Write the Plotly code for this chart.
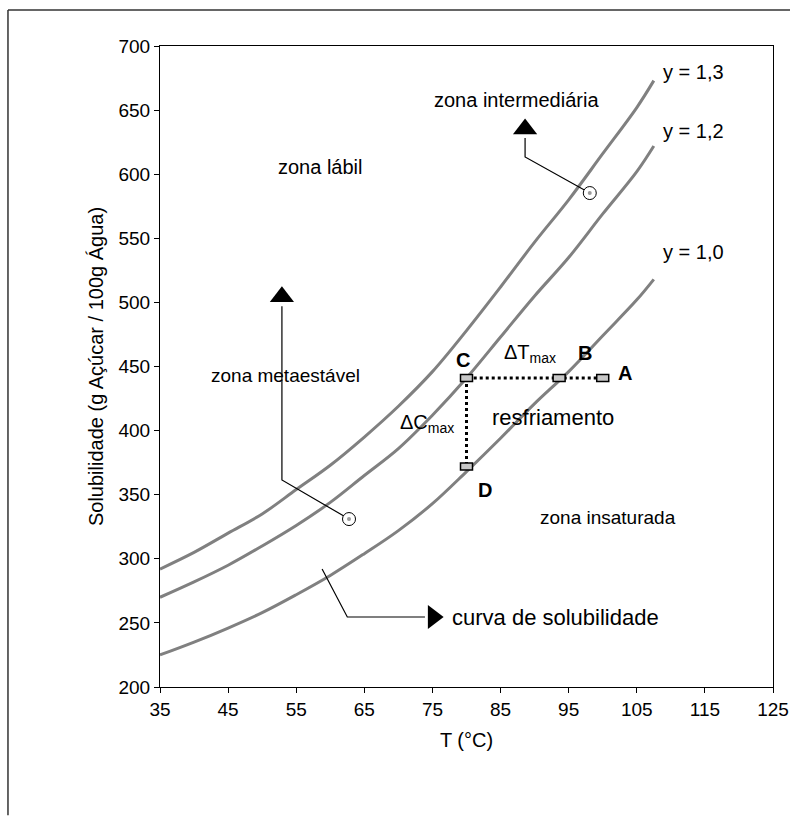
import plotly.graph_objects as go

# Temperature grid (°C) and solubility curves (g sugar / 100 g water)
temp = [35, 40, 45, 50, 55, 60, 65, 70, 75, 80, 85, 90, 95, 100, 105, 107.5]
sol_10 = [225, 235, 246, 258, 272, 287, 304, 322, 343, 368, 394, 421, 446, 474, 502, 518]
sol_12 = [270, 282, 295, 310, 326, 344, 365, 386, 412, 441, 473, 505, 535, 569, 602, 622]
sol_13 = [292, 305, 320, 335, 354, 373, 395, 419, 446, 478, 512, 547, 580, 616, 652, 673]

curve_labels = ["y = 1,3", "y = 1,2", "y = 1,0"]
curve_label_y = [679.7, 633.7, 539.3]
curve_label_x = 113.3

# Cooling path points A -> B -> C and C -> D
path_T = [100, 93.6, 80]
path_C = [441, 441, 441]
drop_T = [80, 80]
drop_C = [441, 372]
box_T = [100, 93.6, 80, 80]
box_C = [441, 441, 441, 372]

# Zone pointers (leader lines, arrow heads, marked points)
inter_line_T = [88.6, 88.6, 98.1]
inter_line_C = [628.2, 613.4, 585.3]
inter_head = (88.6, 635.3)
inter_point = (98.1, 585.3)

meta_line_T = [52.9, 52.9, 62.75]
meta_line_C = [497.0, 361.5, 331.0]
meta_head = (52.9, 504.5)
meta_point = (62.75, 331.0)

sol_line_T = [58.8, 62.5, 73.9]
sol_line_C = [292.0, 254.6, 254.6]
sol_head = (75.1, 254.6)

x_ticks = [35, 45, 55, 65, 75, 85, 95, 105, 115, 125]
y_ticks = [200, 250, 300, 350, 400, 450, 500, 550, 600, 650, 700]

FONT = "Liberation Sans, Arial, sans-serif"
GRAY = "#808080"

fig = go.Figure()

for ys in (sol_13, sol_12, sol_10):
    fig.add_trace(go.Scatter(x=temp, y=ys, mode="lines",
                             line=dict(color=GRAY, width=3, shape="spline"),
                             hoverinfo="skip"))

# dotted cooling path
fig.add_trace(go.Scatter(x=path_T, y=path_C, mode="lines",
                         line=dict(color="black", width=3, dash="dot")))
fig.add_trace(go.Scatter(x=drop_T, y=drop_C, mode="lines",
                         line=dict(color="black", width=3, dash="dot")))

# leader lines
for lx, ly in ((inter_line_T, inter_line_C), (meta_line_T, meta_line_C),
               (sol_line_T, sol_line_C)):
    fig.add_trace(go.Scatter(x=lx, y=ly, mode="lines",
                             line=dict(color="black", width=1.2)))

# arrow heads
fig.add_trace(go.Scatter(x=[inter_head[0], meta_head[0]], y=[inter_head[1], meta_head[1]],
                         mode="markers",
                         marker=dict(symbol="triangle-up", size=21, color="black")))
fig.add_trace(go.Scatter(x=[sol_head[0]], y=[sol_head[1]], mode="markers",
                         marker=dict(symbol="triangle-right", size=21, color="black")))

# marked points (ringed dots)
pts_T = [inter_point[0], meta_point[0]]
pts_C = [inter_point[1], meta_point[1]]
fig.add_trace(go.Scatter(x=pts_T, y=pts_C, mode="markers",
                         marker=dict(symbol="circle", size=13, color="white",
                                     line=dict(color="black", width=1))))
fig.add_trace(go.Scatter(x=pts_T, y=pts_C, mode="markers",
                         marker=dict(symbol="circle", size=4, color="#9a9a9a")))

shapes = []
# small rectangles at the path points
for bt, bc in zip(box_T, box_C):
    shapes.append(dict(type="rect", xref="x", yref="y",
                       xsizemode="pixel", ysizemode="pixel",
                       xanchor=bt, yanchor=bc, x0=-6, x1=6, y0=-3.5, y1=3.5,
                       fillcolor="#c8c8c8", line=dict(color="black", width=1.5)))
# outer chart frame
shapes.append(dict(type="line", xref="paper", yref="paper",
                   x0=-0.248, x1=1.03, y0=1.056, y1=1.056,
                   line=dict(color="#333333", width=1.5)))
shapes.append(dict(type="line", xref="paper", yref="paper",
                   x0=-0.248, x1=-0.248, y0=1.056, y1=-0.2,
                   line=dict(color="#333333", width=1.5)))

annotations = []


def note(text, x, y, size=20, bold=False, xanchor="center"):
    if bold:
        text = "<b>" + text + "</b>"
    annotations.append(dict(text=text, x=x, y=y, xref="x", yref="y",
                            showarrow=False, xanchor=xanchor, yanchor="middle",
                            font=dict(family=FONT, size=size, color="black")))


note("zona intermediária", 87.3, 657.9)
note("zona lábil", 58.6, 605.6)
note("zona metaestável", 53.4, 443.0, size=19)
note("resfriamento", 92.7, 410.6, size=22)
note("zona insaturada", 100.8, 332.6, size=19)
note("curva de solubilidade", 77.6, 254.6, size=22, xanchor="left")
for lbl, ly in zip(curve_labels, curve_label_y):
    note(lbl, curve_label_x, ly)
note("C", 79.5, 455, bold=True)
note("B", 97.4, 460.5, bold=True)
note("A", 103.3, 444.9, bold=True)
note("D", 82.7, 353.7, bold=True)
note("ΔT<sub>max</sub>", 89.3, 460.5)
note("ΔC<sub>max</sub>", 74.2, 405.9)

fig.update_layout(
    width=790, height=817,
    margin=dict(l=160, r=17, t=46, b=130, autoexpand=False),
    paper_bgcolor="white", plot_bgcolor="white",
    showlegend=False,
    shapes=shapes, annotations=annotations,
    font=dict(family=FONT, size=19, color="black"),
    xaxis=dict(range=[35, 125], tickvals=x_ticks, ticks="outside", ticklen=5,
               tickcolor="black", showline=True, linecolor="black", linewidth=1.2,
               mirror=True, showgrid=False, zeroline=False,
               automargin=False, ticklabeloverflow="allow",
               tickfont=dict(family=FONT, size=19),
               title=dict(text="T (°C)", font=dict(family=FONT, size=20), standoff=14)),
    yaxis=dict(range=[200, 700], tickvals=y_ticks, ticks="outside", ticklen=5,
               tickcolor="black", showline=True, linecolor="black", linewidth=1.2,
               mirror=True, showgrid=False, zeroline=False, automargin=False,
               tickfont=dict(family=FONT, size=19),
               title=dict(text="Solubilidade (g Açúcar / 100g Água)",
                          font=dict(family=FONT, size=20), standoff=9)),
)

fig.write_html("out.html")
